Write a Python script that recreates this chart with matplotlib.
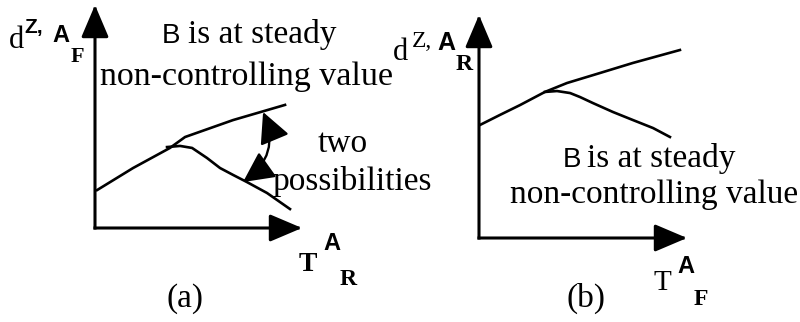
import matplotlib.pyplot as plt
from matplotlib.patches import FancyArrowPatch

SERIF = ['Liberation Serif', 'DejaVu Serif']
SANS = ['Liberation Sans', 'DejaVu Sans']

# sketch curves, axis units 0..10 (arrow tips at 10)
# (a) d^{Z,A}_F against T^A_R
a_upper_x = [0.1, 1.84, 3.62, 4.35, 6.67, 9.18]
a_upper_y = [1.70, 2.69, 3.59, 4.08, 4.84, 5.52]
a_lower_x = [3.48, 4.11, 4.69, 5.41, 6.04, 6.67, 7.34, 8.31, 9.42]
a_lower_y = [3.63, 3.68, 3.59, 3.14, 2.69, 2.38, 2.06, 1.57, 0.85]
a_arrow_top = (8.12, 5.20)
a_arrow_bottom = (7.15, 2.06)

# (b) d^{Z,A}_R against T^A_F
b_upper_x = [0.05, 1.01, 1.97, 3.17, 4.23, 5.82, 7.40, 9.66]
b_upper_y = [5.07, 5.52, 5.96, 6.55, 6.95, 7.40, 7.85, 8.43]
b_lower_x = [3.17, 3.75, 4.38, 4.86, 5.48, 6.44, 7.40, 8.37, 9.18]
b_lower_y = [6.55, 6.59, 6.50, 6.32, 6.05, 5.65, 5.29, 4.93, 4.53]

W, H = 800, 322
fig = plt.figure(figsize=(8, 3.22), dpi=100)
fig.patch.set_facecolor('white')


def txt(x, y, s, size=24, family=SERIF, weight='normal'):
    # x, y: left edge / baseline in pixels from the top-left corner
    fig.text(x / W, 1 - y / H, s, fontsize=size, family=family,
             weight=weight, ha='left', va='baseline')


def make_axes(x0, y0, x1, y1):
    ax = fig.add_axes([x0 / W, 1 - y0 / H, (x1 - x0) / W, (y0 - y1) / H])
    ax.set_xlim(0, 10)
    ax.set_ylim(0, 10)
    ax.axis('off')
    head = dict(arrowstyle='-|>,head_length=20,head_width=8.5',
                mutation_scale=1, lw=2.2, color='black',
                shrinkA=0, shrinkB=0, capstyle='projecting')
    ax.annotate('', xy=(1, 0), xytext=(0, 0), xycoords='axes fraction',
                arrowprops=head)
    ax.annotate('', xy=(0, 1), xytext=(0, 0), xycoords='axes fraction',
                arrowprops=head)
    return ax


ax_a = make_axes(95, 228, 302, 5)
ax_a.plot(a_upper_x, a_upper_y, color='black', lw=1.9, clip_on=False)
ax_a.plot(a_lower_x, a_lower_y, color='black', lw=1.9, clip_on=False)
ax_a.add_patch(FancyArrowPatch(a_arrow_top, a_arrow_bottom,
                               arrowstyle='<|-|>,head_length=19,head_width=9.5',
                               mutation_scale=1, connectionstyle='arc3,rad=-0.4',
                               lw=1.7, color='black', shrinkA=0, shrinkB=0))

ax_b = make_axes(479, 238, 687, 15)
ax_b.plot(b_upper_x, b_upper_y, color='black', lw=1.9, clip_on=False)
ax_b.plot(b_lower_x, b_lower_y, color='black', lw=1.9, clip_on=False)

# panel (a) labels
txt(9, 48, 'd', size=22)
txt(24, 33, 'Z,', size=15, family=SANS, weight='bold')
txt(52, 42, 'A', size=17, family=SANS, weight='bold')
txt(71, 62, 'F', size=16, weight='bold')
txt(162, 43, 'B', size=20, family=SANS)
txt(188, 43, 'is at steady')
txt(100, 85, 'non-controlling value', size=24.5)
txt(318, 152, 'two')
txt(272, 190, 'possibilities')
txt(299, 271, 'T', size=20, weight='bold')
txt(323, 250, 'A', size=17, family=SANS, weight='bold')
txt(340, 285, 'R', size=17, weight='bold')
txt(167, 307, '(a)')

# panel (b) labels
txt(393, 60, 'd', size=22)
txt(412, 47, 'Z,', size=17)
txt(437, 50, 'A', size=18, family=SANS, weight='bold')
txt(456, 70, 'R', size=17, weight='bold')
txt(563, 167, 'B', size=20, family=SANS)
txt(587, 167, 'is at steady')
txt(510, 203, 'non-controlling value')
txt(654, 290, 'T', size=21)
txt(677, 273, 'A', size=17, family=SANS, weight='bold')
txt(694, 305, 'F', size=17, weight='bold')
txt(567, 307, '(b)')

fig.savefig('out.png', dpi=100, facecolor='white')
